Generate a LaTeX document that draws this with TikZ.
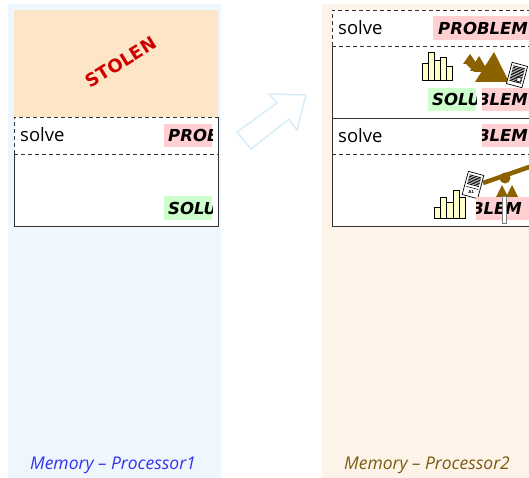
\documentclass[tikz,border=0pt]{standalone}
\usepackage{fontspec}
\setmainfont{Open Sans}
\newfontfamily\tagfont{DejaVu Sans}
\usetikzlibrary{calc}

\definecolor{leftbg}{HTML}{EEF7FD}
\definecolor{rightbg}{HTML}{FEF3E8}
\definecolor{stolenbg}{HTML}{FDE5C8}
\definecolor{stolenred}{HTML}{D00000}
\definecolor{tagpink}{HTML}{FFCFD2}
\definecolor{taggreen}{HTML}{CCFFCC}
\definecolor{memblue}{HTML}{3333EE}
\definecolor{membrown}{HTML}{7A5C10}
\definecolor{iconbrown}{HTML}{8C6200}
\definecolor{barfill}{HTML}{FFFFCC}
\definecolor{arrowblue}{HTML}{D5EBF8}
\definecolor{framegray}{HTML}{333333}

\tikzset{
  solidedge/.style={draw=framegray, line width=0.9pt},
  dashededge/.style={draw=framegray, line width=0.9pt, dash pattern=on 4pt off 3pt},
  solvetext/.style={anchor=base west, inner sep=0pt, font=\fontsize{18.5}{21}\selectfont},
  tagtext/.style={anchor=west, inner sep=0pt, font=\tagfont\bfseries\itshape\fontsize{16.5}{19}\selectfont},
  memlabel/.style={inner sep=0pt, font=\itshape\fontsize{17.5}{20}\selectfont},
  bar/.style={fill=barfill, draw=black, line width=0.8pt},
  docpaper/.style={fill=white, draw=black, line width=0.7pt},
}

% coloured tag whose word is cut off at the edges of the tag
\newcommand\wordtag[7]{%
  \fill[#5] (#1,#2) rectangle (#3,#4);
  \begin{scope}
    \clip (#1,#2) rectangle (#3,#4);
    \node[tagtext] at (#6,{(#2+#4)/2}) {#7};
  \end{scope}}

\begin{document}
\begin{tikzpicture}[x=1pt,y=-1pt]
\clip (0,0) rectangle (529,478);
\useasboundingbox (0,0) rectangle (529,478);

% memory columns
\fill[leftbg] (8,4) rectangle (221,478);
\fill[rightbg] (322,4) rectangle (529,478);

% ---------- processor 1 ----------
\fill[stolenbg] (14,10) rectangle (218,117);
\node[rotate=32, text=stolenred, inner sep=0pt,
      font=\tagfont\bfseries\fontsize{18}{21}\selectfont] (stolen) at (121,62) {STOLEN};

\fill[white] (14,117) rectangle (218,226);
\draw[dashededge] (14,154) -- (14,117) -- (218,117);
\draw[dashededge] (14,154) -- (218,154);
\draw[solidedge] (218,117) -- (218,226) -- (14,226) -- (14,154);
\node[solvetext] (solveA) at (20,142) {solve};
\wordtag{164}{124}{212}{147}{tagpink}{168}{PROBLEM}
\wordtag{164}{196}{212}{220}{taggreen}{168}{SOLUTION}

% ---------- transfer arrow ----------
\draw[arrowblue, line width=1.4pt, line join=miter]
  (237,132) -- (277,103) -- (269,94) -- (306,95) -- (297,130)
  -- (289,119) -- (251,149) -- cycle;

% ---------- processor 2 ----------
\fill[white] (332,10) rectangle (540,226);
\draw[dashededge] (332,46) -- (332,10) -- (540,10);
\draw[dashededge] (332,46) -- (540,46);
\draw[dashededge] (332,154) -- (540,154);
\draw[solidedge] (332,46) -- (332,226) -- (540,226);
\draw[solidedge] (332,118) -- (540,118);

\node[solvetext] (solveB) at (338,35) {solve};
\wordtag{433}{16}{540}{40}{tagpink}{438}{PROBLEM}

% statistics chart
\foreach \xa/\xb/\top in {422/428/63, 428/434/52, 434/440/60, 440/446/57, 446/452/66}
  \draw[bar] (\xa,80) rectangle (\xb,\top);

% mountains
\fill[iconbrown] (463,64) -- (470,54) -- (477,64) -- cycle;
\fill[iconbrown] (470,71) -- (479,56) -- (488,71) -- cycle;
\fill[iconbrown] (466,64) -- (476,64) -- (484,72) -- (474,72) -- cycle;
\fill[iconbrown] (475,82) -- (494,52) -- (509,82) -- cycle;

% printed sheet
\begin{scope}[shift={(517,75)}, rotate=-15]
  \draw[docpaper] (-8,-11) rectangle (8,11);
  \foreach \yy in {-8,-6.5,...,7}
    \draw[line width=0.8pt] (-6,\yy) -- (6,\yy);
  \draw[fill=white, line width=0.6pt] (1,2) rectangle (5,6);
\end{scope}

\wordtag{428}{88}{476}{111}{taggreen}{432}{SOLUTION}
\wordtag{482}{88}{540}{111}{tagpink}{438}{PROBLEM}

\node[solvetext] (solveC) at (338,143) {solve};
\wordtag{482}{124}{540}{147}{tagpink}{438}{PROBLEM}

% balance beam
\fill[iconbrown] (505,178) circle (5.5);
\draw[iconbrown, line width=4.5pt] (483,183) -- (535,165);
\fill[iconbrown] (496,197) -- (502,185) -- (508,197) -- cycle;
\fill[iconbrown] (506,197) -- (512,185) -- (518,197) -- cycle;

% second sheet
\begin{scope}[shift={(473,185)}, rotate=-15]
  \draw[docpaper] (-8,-12) rectangle (8,12);
  \foreach \yy in {-9,-7.5,...,0}
    \draw[line width=0.8pt] (-6,\yy) -- (6,\yy);
  \draw[line width=0.5pt] (-6,3) -- (6,3);
  \node[inner sep=0pt, font=\tagfont\bfseries\fontsize{4}{4}\selectfont] (sheetmark) at (0,7) {A1};
\end{scope}

% second chart
\foreach \xa/\xb/\top in {434/440/207, 440/446/197, 446/453/202, 453/459/190, 459/465/197}
  \draw[bar] (\xa,218) rectangle (\xb,\top);

\wordtag{476}{197}{540}{220}{tagpink}{432}{PROBLEM}
\draw[fill=white, draw=gray, line width=0.5pt] (502,196) rectangle (506,223);

% column captions
\node[memlabel, text=memblue] (capA) at (113,465) {Memory – Processor1};
\node[memlabel, text=membrown] (capB) at (427,465) {Memory – Processor2};
\end{tikzpicture}
\end{document}
